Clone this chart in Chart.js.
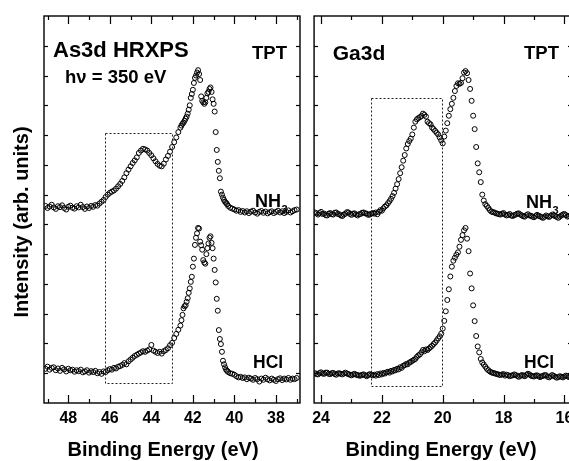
<!DOCTYPE html>
<html>
<head>
<meta charset="utf-8">
<script src="https://cdn.jsdelivr.net/npm/chart.js@4/dist/chart.umd.min.js"></script>
<style>
  html, body { margin: 0; padding: 0; background: #fff; overflow: hidden; width: 569px; height: 461px; }
  #wrap { position: relative; width: 569px; height: 461px; overflow: hidden; }
  canvas { position: absolute; top: 0; }
  #cAs { left: 0; }
  #cGa { left: 306px; }
</style>
</head>
<body>
<div id="wrap">
  <canvas id="cAs" width="306" height="461"></canvas>
  <canvas id="cGa" width="275" height="461"></canvas>
</div>
<script>
// ---------------- DATA ----------------
// As3d panel: binding energy (eV)
const asEnergy = [
  49.1,49.0,48.9,48.8,48.7,48.6,48.5,48.4,48.3,48.2,48.1,48.0,47.9,47.8,47.7,47.6,47.5,47.4,47.3,47.2,
  47.1,47.0,46.9,46.8,46.7,46.6,46.5,46.4,46.3,46.2,46.1,46.0,45.9,45.8,45.7,45.6,45.5,45.4,45.3,45.2,
  45.1,45.0,44.9,44.8,44.7,44.6,44.5,44.4,44.3,44.2,44.1,44.0,43.9,43.8,43.7,43.6,43.5,43.4,43.3,43.2,
  43.1,43.0,42.9,42.8,42.7,42.6,
  42.55,42.5,42.45,42.4,42.35,42.3,42.25,42.2,42.15,42.1,42.05,42.0,41.95,41.9,41.85,41.8,41.75,41.7,41.65,41.6,
  41.55,41.5,41.45,41.4,41.35,41.3,41.25,41.2,41.15,41.1,41.05,41.0,40.95,40.9,40.85,40.8,40.75,40.7,40.65,40.6,
  40.55,40.5,40.45,40.4,40.35,40.3,
  40.2,40.1,40.0,39.9,39.8,39.7,39.6,39.5,39.4,39.3,39.2,39.1,39.0,38.9,38.8,38.7,38.6,38.5,38.4,38.3,
  38.2,38.1,38.0,37.9,37.8,37.7,37.6,37.5,37.4,37.3,37.2,37.1,37.0
];
// As3d, NH3-treated (arb. units, offset)
const asNH3 = [
  6.62,6.55,6.60,6.66,6.57,6.52,6.61,6.58,6.64,6.55,6.50,6.59,6.63,6.56,6.53,6.61,6.57,6.66,6.58,6.52,
  6.60,6.55,6.62,6.59,6.65,6.63,6.70,6.76,6.82,6.92,7.00,7.06,7.10,7.14,7.20,7.28,7.36,7.46,7.58,7.72,
  7.84,7.95,8.06,8.15,8.25,8.40,8.48,8.54,8.52,8.48,8.40,8.32,8.22,8.12,8.03,7.97,7.95,8.04,8.18,8.30,
  8.44,8.60,8.76,8.92,9.10,9.25,
  9.32,9.38,9.42,9.48,9.55,9.62,9.72,9.85,10.00,10.25,10.38,10.52,10.75,10.92,11.00,11.10,11.18,11.05,10.85,10.30,
  10.15,10.10,10.05,10.10,10.25,10.40,10.45,10.55,10.60,10.45,10.20,10.05,9.79,9.10,8.50,8.10,7.80,7.55,7.10,7.00,
  6.90,6.82,6.76,6.72,6.68,6.62,
  6.56,6.53,6.50,6.46,6.48,6.42,6.45,6.40,6.44,6.38,6.43,6.46,6.40,6.36,6.42,6.45,6.39,6.43,6.37,6.41,
  6.44,6.38,6.42,6.46,6.40,6.44,6.38,6.42,6.47,6.40,6.44,6.48,6.50
];
// As3d, HCl-treated
const asHCl = [
  1.15,1.22,1.12,1.18,1.20,1.10,1.16,1.08,1.18,1.13,1.06,1.15,1.10,1.12,1.05,1.10,1.07,1.12,1.03,1.06,
  1.10,1.02,1.07,1.04,1.08,1.00,1.04,0.98,1.06,1.04,1.10,1.14,1.12,1.18,1.16,1.22,1.24,1.28,1.34,1.30,
  1.40,1.46,1.52,1.58,1.62,1.66,1.70,1.74,1.72,1.76,1.80,1.95,1.76,1.72,1.68,1.72,1.66,1.74,1.78,1.84,
  1.94,2.02,2.18,2.32,2.46,2.60,
  2.78,2.96,3.18,3.25,3.28,3.40,3.52,3.70,3.85,4.07,4.24,4.58,4.85,5.31,5.55,5.70,5.88,5.86,5.42,5.30,
  5.15,4.80,4.72,4.68,5.00,5.20,5.36,5.55,5.60,5.38,5.20,4.85,4.47,4.05,3.50,3.10,2.45,2.15,1.98,1.72,
  1.42,1.30,1.20,1.12,1.08,1.04,
  1.00,0.98,0.95,0.90,0.86,0.88,0.84,0.86,0.80,0.85,0.82,0.78,0.84,0.80,0.72,0.82,0.78,0.85,0.80,0.76,
  0.82,0.78,0.74,0.80,0.83,0.77,0.82,0.79,0.84,0.78,0.82,0.80,0.84
];

// Ga3d panel: binding energy (eV)
const gaEnergy = [
  24.2,24.15,24.1,24.05,24.0,23.95,23.9,23.85,23.8,23.75,23.7,23.65,23.6,23.55,23.5,23.45,23.4,23.35,23.3,23.25,
  23.2,23.15,23.1,23.05,23.0,22.95,22.9,22.85,22.8,22.75,22.7,22.65,22.6,22.55,22.5,22.45,22.4,22.35,22.3,
  22.25,22.2,22.15,22.1,22.05,22.0,21.95,21.9,21.85,21.8,21.75,21.7,21.65,21.6,21.55,21.5,21.45,21.4,21.35,21.3,
  21.25,21.2,21.15,21.1,21.05,21.0,20.95,20.9,20.85,20.8,20.75,20.7,20.65,20.6,20.55,20.5,20.45,20.4,20.35,20.3,
  20.25,20.2,20.15,20.1,20.05,20.0,19.95,19.9,19.85,19.8,19.75,19.7,19.65,19.6,19.55,19.5,19.45,19.4,19.35,19.3,
  19.25,19.2,19.15,19.1,19.05,19.0,18.95,18.9,18.85,18.8,18.75,18.7,18.65,18.6,18.55,18.5,18.45,18.4,
  18.35,18.3,18.25,18.2,18.15,18.1,18.05,18.0,17.95,17.9,17.85,17.8,17.75,17.7,17.65,17.6,17.55,17.5,17.45,17.4,
  17.35,17.3,17.25,17.2,17.15,17.1,17.05,17.0,16.95,16.9,16.85,16.8,16.75,16.7,16.65,16.6,16.55,16.5,16.45,16.4,
  16.35,16.3,16.25,16.2,16.15,16.1,16.05,16.0,15.95,15.9,15.85,15.8
];
// Ga3d, NH3-treated
const gaNH3 = [
  6.40,6.37,6.33,6.38,6.42,6.35,6.36,6.31,6.30,6.36,6.38,6.34,6.33,6.39,6.40,6.35,6.34,6.30,6.28,6.33,
  6.36,6.41,6.40,6.35,6.32,6.36,6.37,6.33,6.30,6.34,6.35,6.39,6.40,6.37,6.36,6.32,6.33,6.36,6.38,
  6.36,6.40,6.34,6.42,6.48,6.46,6.54,6.60,6.64,6.71,6.78,6.86,6.95,7.06,7.20,7.35,7.52,7.72,7.92,8.14,
  8.33,8.55,8.70,8.80,8.88,9.02,9.25,9.45,9.53,9.57,9.60,9.64,9.72,9.68,9.62,9.45,9.40,9.36,9.25,9.20,
  9.14,9.08,9.02,8.92,8.82,8.72,8.95,9.15,9.40,9.65,9.87,10.05,10.25,10.48,10.65,10.74,10.72,10.75,10.91,11.10,
  11.15,11.08,10.85,10.55,10.15,9.65,9.20,8.60,8.05,7.75,7.42,7.00,6.80,6.68,6.62,6.55,6.48,6.43,
  6.41,6.40,6.37,6.36,6.34,6.33,6.36,6.38,6.33,6.30,6.32,6.35,6.30,6.28,6.31,6.33,6.36,6.37,6.33,6.30,
  6.27,6.26,6.31,6.34,6.30,6.29,6.26,6.24,6.28,6.32,6.29,6.27,6.24,6.22,6.26,6.30,6.27,6.25,6.29,6.33,
  6.30,6.28,6.25,6.22,6.26,6.30,6.33,6.35,6.31,6.26,6.28,6.30
];
// Ga3d, HCl-treated
const gaHCl = [
  1.00,0.97,0.96,1.01,1.03,0.99,0.98,1.02,1.02,0.98,0.97,1.00,1.01,0.97,0.95,0.99,1.00,0.98,0.96,0.99,
  1.02,0.99,0.97,0.95,0.93,0.96,0.98,0.95,0.94,0.92,0.92,0.95,0.96,0.93,0.90,0.94,0.97,0.95,0.93,
  0.95,0.92,0.97,0.94,0.99,0.96,1.01,0.99,1.03,1.05,1.02,1.08,1.06,1.11,1.10,1.15,1.13,1.20,1.18,1.25,
  1.27,1.31,1.30,1.36,1.38,1.42,1.45,1.48,1.55,1.60,1.63,1.70,1.78,1.74,1.80,1.78,1.83,1.88,1.92,1.98,
  2.03,2.10,2.17,2.24,2.33,2.50,2.76,3.08,3.46,3.82,4.25,4.58,4.78,4.88,4.98,5.06,5.25,5.48,5.64,5.80,
  5.88,5.52,5.10,4.35,3.85,3.28,2.75,2.25,1.90,1.70,1.48,1.36,1.29,1.22,1.15,1.10,1.06,1.03,
  1.01,1.00,0.98,0.97,0.95,0.94,0.96,0.97,0.92,0.95,0.93,0.90,0.92,0.93,0.96,0.94,0.91,0.88,0.91,0.94,
  0.92,0.90,0.95,0.98,0.96,0.92,0.90,0.89,0.92,0.93,0.90,0.87,0.90,0.91,0.94,0.93,0.88,0.86,0.90,0.94,
  0.91,0.88,0.85,0.87,0.90,0.88,0.86,0.89,0.92,0.90,0.87,0.89
];

// Axis settings (energy windows shown, reversed axis)
const asRange = [36.84, 49.17];
const gaRange = [15.75, 24.23];
const intensityRange = [0, 13];

// ---------------- RENDERING ----------------
const FONT = "'Liberation Sans', Arial, Helvetica, sans-serif";
Chart.defaults.font.family = FONT;
Chart.defaults.color = '#000';

function pts(xs, ys) { return xs.map((x, i) => ({ x: x, y: ys[i] })); }

const decor = {
  id: 'decor',
  afterDraw(chart, args, o) {
    const ctx = chart.ctx, a = chart.chartArea;
    const xs = chart.scales.x, ys = chart.scales.y;
    ctx.save();
    function line(x1, y1, x2, y2) { ctx.beginPath(); ctx.moveTo(x1, y1); ctx.lineTo(x2, y2); ctx.stroke(); }
    // dashed region box
    if (o.box) {
      const bx1 = Math.round(xs.getPixelForValue(o.box[0])) + 0.5;
      const bx2 = Math.round(xs.getPixelForValue(o.box[1])) + 0.5;
      const byTop = Math.round(ys.getPixelForValue(o.box[3])) + 0.5;
      const byBot = Math.round(ys.getPixelForValue(o.box[2])) + 0.5;
      ctx.setLineDash([2, 2]);
      ctx.lineWidth = 1;
      ctx.strokeStyle = '#222';
      ctx.strokeRect(bx1, byTop, bx2 - bx1, byBot - byTop);
      ctx.setLineDash([]);
    }
    // frame
    ctx.strokeStyle = '#000';
    ctx.lineWidth = 1.4;
    ctx.strokeRect(a.left, a.top, a.right - a.left, a.bottom - a.top);
    // inward x ticks (bottom + top)
    ctx.lineWidth = 1.2;
    xs.ticks.forEach(t => {
      const px = Math.round(xs.getPixelForValue(t.value)) + 0.5;
      const len = (Math.round(t.value) % 2 === 0) ? 8 : 4;
      line(px, a.bottom, px, a.bottom - len);
      line(px, a.top, px, a.top + len);
    });
    // inward y ticks (left + right)
    ys.ticks.forEach(t => {
      if (t.value <= ys.min || t.value >= ys.max) return;
      const py = Math.round(ys.getPixelForValue(t.value)) + 0.5;
      line(a.left, py, a.left + 4, py);
      line(a.right, py, a.right - 4, py);
    });
    // text labels
    ctx.fillStyle = '#000';
    ctx.textBaseline = 'alphabetic';
    ctx.textAlign = 'left';
    (o.texts || []).forEach(t => {
      ctx.font = 'bold ' + t.size + 'px ' + FONT;
      ctx.fillText(t.text, t.x, t.y);
      if (t.sub) {
        const w = ctx.measureText(t.text).width;
        ctx.font = 'bold ' + Math.round(t.size * 0.62) + 'px ' + FONT;
        ctx.fillText(t.sub, t.x + w + 0.5, t.y + 6);
      }
    });
    // x axis title
    if (o.xTitle) {
      ctx.font = 'bold ' + o.xTitle.size + 'px ' + FONT;
      ctx.textAlign = 'center';
      ctx.textBaseline = 'alphabetic';
      ctx.fillText(o.xTitle.text, o.xTitle.x, o.xTitle.y);
    }
    // y axis title
    if (o.yTitle) {
      ctx.save();
      ctx.translate(o.yTitle.x, o.yTitle.y);
      ctx.rotate(-Math.PI / 2);
      ctx.font = 'bold ' + o.yTitle.size + 'px ' + FONT;
      ctx.textAlign = 'center';
      ctx.textBaseline = 'middle';
      ctx.fillText(o.yTitle.text, 0, 0);
      ctx.restore();
    }
    ctx.restore();
  }
};

function makeChart(id, energy, nh3, hcl, range, yAxisWidth, padRight, deco) {
  const pointStyle = {
    showLine: false,
    pointRadius: 2.5,
    pointHoverRadius: 2.5,
    pointBorderWidth: 1,
    pointBorderColor: '#000',
    pointBackgroundColor: 'rgba(0,0,0,0)',
    borderColor: '#000',
    backgroundColor: 'rgba(0,0,0,0)'
  };
  return new Chart(document.getElementById(id), {
    type: 'scatter',
    data: {
      datasets: [
        Object.assign({ label: 'NH3', data: pts(energy, nh3) }, pointStyle),
        Object.assign({ label: 'HCl', data: pts(energy, hcl) }, pointStyle)
      ]
    },
    options: {
      responsive: false,
      devicePixelRatio: 1,
      animation: false,
      events: [],
      layout: { padding: { top: 16, left: 0, right: padRight, bottom: 0 } },
      plugins: { legend: { display: false }, tooltip: { enabled: false }, decor: deco },
      scales: {
        x: {
          type: 'linear',
          position: 'bottom',
          reverse: true,
          min: range[0],
          max: range[1],
          afterFit: s => { s.height = 58; },
          grid: { display: false, drawTicks: false },
          border: { display: false },
          ticks: {
            stepSize: 1,
            includeBounds: false,
            autoSkip: false,
            maxRotation: 0,
            padding: 6,
            font: { size: 16, weight: 'bold' },
            color: '#000',
            callback: v => (Math.round(v) % 2 === 0 ? String(Math.round(v)) : '')
          }
        },
        y: {
          type: 'linear',
          min: intensityRange[0],
          max: intensityRange[1],
          afterFit: s => { s.width = yAxisWidth; },
          grid: { display: false, drawTicks: false },
          border: { display: false },
          ticks: { stepSize: 1, display: false }
        }
      }
    },
    plugins: [decor]
  });
}

makeChart('cAs', asEnergy, asNH3, asHCl, asRange, 44, 6, {
  box: [46.22, 43.02, 0.66, 9.06],
  texts: [
    { text: 'As3d HRXPS', x: 53, y: 57, size: 22 },
    { text: 'h\u03BD = 350 eV', x: 65, y: 83, size: 18.5 },
    { text: 'TPT', x: 252, y: 59, size: 18.5 },
    { text: 'NH', sub: '3', x: 255, y: 207, size: 18 },
    { text: 'HCl', x: 253, y: 368, size: 17.5 }
  ],
  xTitle: { text: 'Binding Energy (eV)', x: 163, y: 456, size: 20 },
  yTitle: { text: 'Intensity (arb. units)', x: 22, y: 222, size: 20 }
});

makeChart('cGa', gaEnergy, gaNH3, gaHCl, gaRange, 6.3, 9, {
  box: [22.37, 20.02, 0.58, 10.26],
  texts: [
    { text: 'Ga3d', x: 332.7 - 306, y: 60, size: 21 },
    { text: 'TPT', x: 524 - 306, y: 59, size: 18.5 },
    { text: 'NH', sub: '3', x: 526 - 306, y: 208, size: 18 },
    { text: 'HCl', x: 524 - 306, y: 368, size: 17.5 }
  ],
  xTitle: { text: 'Binding Energy (eV)', x: 441 - 306, y: 456, size: 20 }
});
</script>
</body>
</html>
